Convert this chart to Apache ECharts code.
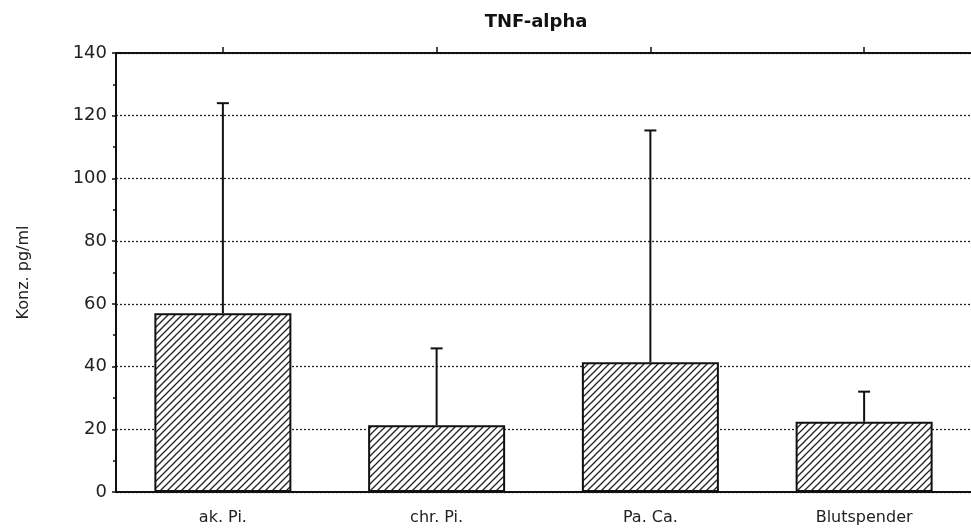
<!DOCTYPE html>
<html>
<head>
<meta charset="utf-8">
<script src="https://cdn.jsdelivr.net/npm/echarts@6/dist/echarts.min.js"></script>
<style>
  html, body { margin: 0; padding: 0; background: #fff; }
  #chart { width: 971px; height: 532px; }
</style>
</head>
<body>
<div id="chart"></div>
<script>
// TNF-alpha concentrations per group: mean and standard deviation (pg/ml)
const categories = ['ak. Pi.', 'chr. Pi.', 'Pa. Ca.', 'Blutspender'];
const means = [57, 21.3, 41.4, 22.4];
const sds = [67, 24.5, 73.9, 9.6];
const yTicks = [0, 20, 40, 60, 80, 100, 120, 140];

// Diagonal hatch fill for the bars
function hatchPattern() {
  const s = 7;
  const c = document.createElement('canvas');
  c.width = s; c.height = s;
  const g = c.getContext('2d');
  g.fillStyle = '#fff';
  g.fillRect(0, 0, s, s);
  g.strokeStyle = '#222';
  g.lineWidth = 1.3;
  g.beginPath();
  g.moveTo(-1, s + 1); g.lineTo(s + 1, -1);
  g.moveTo(-1, 1); g.lineTo(1, -1);
  g.moveTo(s - 1, s + 1); g.lineTo(s + 1, s - 1);
  g.stroke();
  return c;
}

const chart = echarts.init(document.getElementById('chart'), null, { renderer: 'canvas' });
const font = 'DejaVu Sans, Verdana, sans-serif';

chart.setOption({
  backgroundColor: '#fff',
  animation: false,
  title: {
    text: 'TNF-alpha',
    left: 531, top: 8, textAlign: 'center',
    textStyle: { fontFamily: 'DejaVu Sans', fontWeight: 'bold', fontSize: 18, color: '#111' }
  },
  grid: { left: 116, right: -9, top: 53, bottom: 40 },
  xAxis: [{
    type: 'category',
    data: categories,
    position: 'bottom',
    axisLine: { lineStyle: { color: '#111', width: 2 } },
    axisTick: { alignWithLabel: true, length: 6, lineStyle: { color: '#111', width: 1.5 } },
    axisLabel: { color: '#222', fontFamily: font, fontSize: 16, margin: 18 }
  }, {
    type: 'category',
    data: categories,
    position: 'top',
    axisLine: { lineStyle: { color: '#111', width: 2 } },
    axisTick: { show: true, alignWithLabel: true, length: 6, lineStyle: { color: '#111', width: 1.5 } },
    axisLabel: { show: false }
  }],
  yAxis: {
    type: 'value',
    min: yTicks[0], max: yTicks[yTicks.length - 1], interval: 20,
    name: 'Konz. pg/ml',
    nameLocation: 'middle',
    nameGap: 84,
    nameRotate: 90,
    nameTextStyle: { fontFamily: font, fontSize: 16, color: '#222' },
    axisLine: { show: true, lineStyle: { color: '#111', width: 2 } },
    axisTick: { show: true, length: 4, lineStyle: { color: '#111', width: 1.5 } },
    minorTick: { show: true, splitNumber: 2, length: 3, lineStyle: { color: '#111', width: 1.5 } },
    axisLabel: { color: '#222', fontFamily: font, fontSize: 18, margin: 9 },
    splitLine: {
      show: true,
      lineStyle: { color: '#222', type: [2, 2], width: 1.3 }
    }
  },
  series: [{
    type: 'bar',
    data: means,
    barWidth: 137,
    z: 3,
    itemStyle: {
      color: { image: hatchPattern(), repeat: 'repeat' },
      borderColor: '#111',
      borderWidth: 2
    }
  }, {
    type: 'custom',
    z: 4,
    data: means.map((m, i) => [i, m, m + sds[i]]),
    renderItem: function (params, api) {
      const lo = api.coord([api.value(0), api.value(1)]);
      const hi = api.coord([api.value(0), api.value(2)]);
      const cap = 6;
      const st = { stroke: '#111', lineWidth: 2 };
      return {
        type: 'group',
        children: [
          { type: 'line', shape: { x1: lo[0], y1: lo[1], x2: hi[0], y2: hi[1] }, style: st },
          { type: 'line', shape: { x1: hi[0] - cap, y1: hi[1], x2: hi[0] + cap, y2: hi[1] }, style: st }
        ]
      };
    }
  }]
});
</script>
</body>
</html>
